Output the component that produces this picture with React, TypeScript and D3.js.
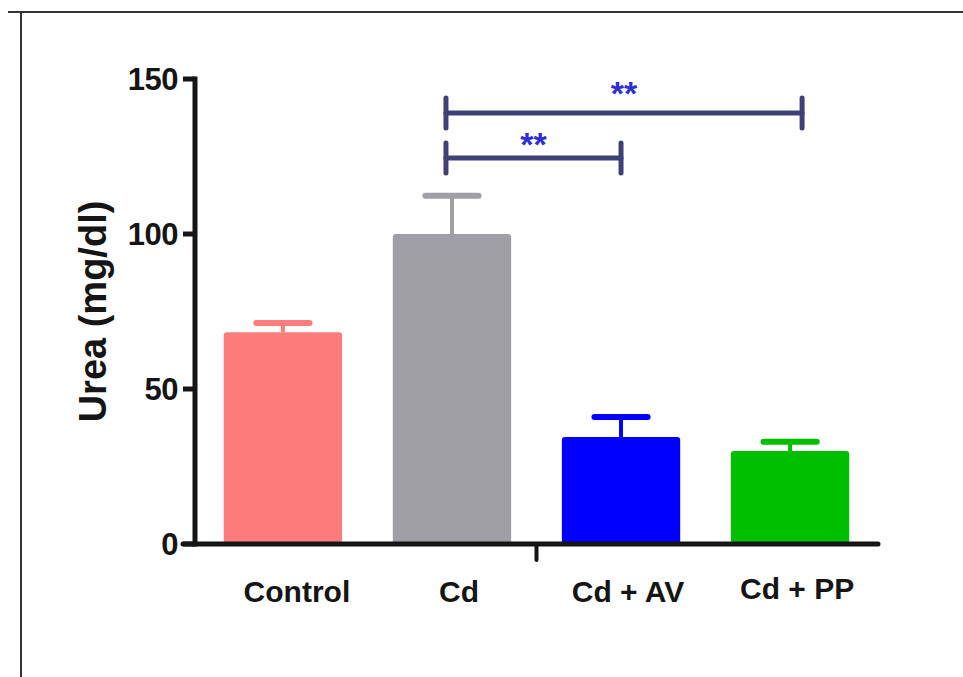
import React, {useEffect, useRef} from 'react';
import {select, scaleBand, scaleLinear} from 'd3';

// groups and values (mean, upper error)
const categories = ["Control", "Cd", "Cd + AV", "Cd + PP"];
const means = [68.3, 100, 34.5, 30];
const errors = [3.0, 12.3, 6.5, 3.0];
const barColors = ["#FF7C7C", "#A09FA5", "#0000FF", "#00BF00"];
const yTicks = [0, 50, 100, 150];

// significance brackets
const compFrom = ["Cd", "Cd"];
const compTo = ["Cd + AV", "Cd + PP"];
const compLevel = [124.5, 139];
const compLabel = ["**", "**"];

export default function App() {
    const ref = useRef<SVGSVGElement>(null);

    useEffect(() => {
        const svg = select(ref.current);
        svg.selectAll("*").remove();

        const font = "'Liberation Sans', Arial, sans-serif";
        const ink = "#151515";

        // outer frame (top + left rule)
        svg.append("line").attr("x1", 8).attr("x2", 963).attr("y1", 12).attr("y2", 12)
            .attr("stroke", "#333").attr("stroke-width", 2);
        svg.append("line").attr("x1", 21).attr("x2", 21).attr("y1", 12).attr("y2", 677)
            .attr("stroke", "#333").attr("stroke-width", 2);

        const x = scaleBand<string>()
            .domain(categories)
            .range([195, 878])
            .paddingInner(0.3)
            .paddingOuter(0.17);
        const y = scaleLinear().domain([0, 150]).range([544, 79]);

        //bars
        categories.forEach((c, i) => {
            const x0 = x(c) as number;
            const bw = x.bandwidth();
            const cx = x0 + bw / 2;
            svg.append("rect")
                .attr("x", x0).attr("y", y(means[i]))
                .attr("width", bw).attr("height", y(0) - y(means[i]))
                .attr("rx", 3)
                .attr("fill", barColors[i]);
            // error bar
            svg.append("line")
                .attr("x1", cx).attr("x2", cx)
                .attr("y1", y(means[i])).attr("y2", y(means[i] + errors[i]))
                .attr("stroke", barColors[i]).attr("stroke-width", 4);
            svg.append("line")
                .attr("x1", cx - bw / 4 + 3).attr("x2", cx + bw / 4 - 3)
                .attr("y1", y(means[i] + errors[i])).attr("y2", y(means[i] + errors[i]))
                .attr("stroke", barColors[i]).attr("stroke-width", 6)
                .attr("stroke-linecap", "round");
            // category label
            svg.append("text")
                .attr("x", cx + (i === 0 ? 14 : 7)).attr("y", i === 3 ? 599 : 602)
                .attr("text-anchor", "middle")
                .attr("font-family", font).attr("font-weight", "bold")
                .attr("font-size", 30).attr("fill", ink)
                .text(c);
        });

        // y axis
        svg.append("line")
            .attr("x1", 195).attr("x2", 195).attr("y1", y(150) - 2.5).attr("y2", y(0) + 2.5)
            .attr("stroke", ink).attr("stroke-width", 5);
        yTicks.forEach(t => {
            svg.append("line")
                .attr("x1", 183).attr("x2", 195).attr("y1", y(t)).attr("y2", y(t))
                .attr("stroke", ink).attr("stroke-width", 5);
            svg.append("text")
                .attr("x", 178).attr("y", y(t)).attr("dy", "0.36em")
                .attr("text-anchor", "end")
                .attr("font-family", font).attr("font-weight", "bold")
                .attr("font-size", 31).attr("letter-spacing", -0.5).attr("fill", ink)
                .text(t);
        });
        svg.append("text")
            .attr("transform", `translate(106, ${(y(0) + y(150)) / 2}) rotate(-90)`)
            .attr("text-anchor", "middle")
            .attr("font-family", font).attr("font-weight", "bold")
            .attr("font-size", 38).attr("fill", ink)
            .text("Urea (mg/dl)");

        // x axis
        svg.append("line")
            .attr("x1", 183).attr("x2", 878).attr("y1", y(0)).attr("y2", y(0))
            .attr("stroke", ink).attr("stroke-width", 5).attr("stroke-linecap", "round");
        const midTick = ((x("Cd") as number) + x.bandwidth() + (x("Cd + AV") as number)) / 2;
        svg.append("line")
            .attr("x1", midTick).attr("x2", midTick).attr("y1", y(0)).attr("y2", y(0) + 16)
            .attr("stroke", ink).attr("stroke-width", 4).attr("stroke-linecap", "round");

        // significance brackets
        compFrom.forEach((f, i) => {
            const x1 = (x(f) as number) + x.bandwidth() / 2 - 6;
            const x2 = (x(compTo[i]) as number) + x.bandwidth() / 2 + (i === 1 ? 12 : 0);
            const ly = y(compLevel[i]);
            const g = svg.append("g").attr("stroke", "#3E4175").attr("stroke-linecap", "round");
            g.append("line").attr("x1", x1).attr("x2", x2).attr("y1", ly).attr("y2", ly)
                .attr("stroke-width", 5);
            g.append("line").attr("x1", x1).attr("x2", x1).attr("y1", ly - 15).attr("y2", ly + 15)
                .attr("stroke-width", 5);
            g.append("line").attr("x1", x2).attr("x2", x2).attr("y1", ly - 15).attr("y2", ly + 15)
                .attr("stroke-width", 5);
            svg.append("text")
                .attr("x", (x1 + x2) / 2).attr("y", ly - (i === 1 ? 8 : 2))
                .attr("text-anchor", "middle")
                .attr("font-family", font).attr("font-weight", "bold")
                .attr("font-size", 34).attr("fill", "#2E2ED6")
                .text(compLabel[i]);
        });
    }, []);

    return (
        <svg ref={ref} width={963} height={677}
             style={{position: "absolute", left: 0, top: 0, background: "#fff"}} />
    );
}
